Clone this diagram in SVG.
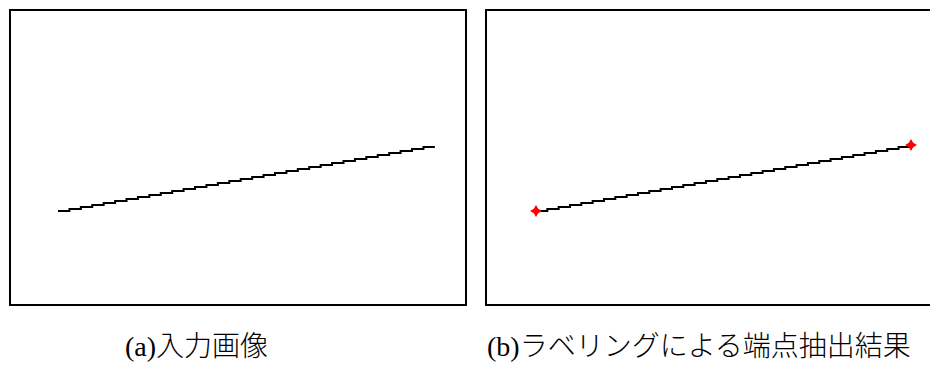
<svg xmlns="http://www.w3.org/2000/svg" width="930" height="367" viewBox="0 0 930 367">
<style>
.frame{fill:#fff;stroke:#000;stroke-width:2}
.seg{fill:none;stroke:#000;stroke-width:2}
.pt{fill:#ff0000}
.cap{font-family:"Liberation Serif","Noto Sans CJK JP",serif;font-size:28px;font-weight:300;fill:#000}
</style>
<defs>
<path id="mk" d="M0,-6 L2.2,-2.2 L6,0 L2.2,2.2 L0,6 L-2.2,2.2 L-6,0 L-2.2,-2.2 Z"/>
</defs>
<rect width="930" height="367" fill="#fff"/>
<g id="panel-a">
<rect class="frame" x="10" y="10" width="456" height="295"/>
<path class="seg" d="M58,211 h11.42 v-2 h11.42 v-2 h11.42 v-2 h11.42 v-2 h11.42 v-2 h11.42 v-2 h11.42 v-2 h11.42 v-2 h11.42 v-2 h11.42 v-2 h11.42 v-2 h11.42 v-2 h11.42 v-2 h11.42 v-2 h11.42 v-2 h11.42 v-2 h11.42 v-2 h11.42 v-2 h11.42 v-2 h11.42 v-2 h11.42 v-2 h11.42 v-2 h11.42 v-2 h11.42 v-2 h11.42 v-2 h11.42 v-2 h11.42 v-2 h11.42 v-2 h11.42 v-2 h11.42 v-2 h11.42 v-2 h11.42 v-2 h11.42"/>
<text class="cap" x="125" y="356">(a)入力画像</text>
</g>
<g id="panel-b">
<rect class="frame" x="486" y="10" width="460" height="295"/>
<path class="seg" d="M536,211 h11.33 v-2 h11.33 v-2 h11.33 v-2 h11.33 v-2 h11.33 v-2 h11.33 v-2 h11.33 v-2 h11.33 v-2 h11.33 v-2 h11.33 v-2 h11.33 v-2 h11.33 v-2 h11.33 v-2 h11.33 v-2 h11.33 v-2 h11.33 v-2 h11.33 v-2 h11.33 v-2 h11.33 v-2 h11.33 v-2 h11.33 v-2 h11.33 v-2 h11.33 v-2 h11.33 v-2 h11.33 v-2 h11.33 v-2 h11.33 v-2 h11.33 v-2 h11.33 v-2 h11.33 v-2 h11.33 v-2 h11.33 v-2 h11.33"/>
<use class="pt" href="#mk" x="536" y="211"/>
<use class="pt" href="#mk" x="911" y="145"/>
<text class="cap" x="487" y="356">(b)ラベリングによる端点抽出結果</text>
</g>
</svg>
